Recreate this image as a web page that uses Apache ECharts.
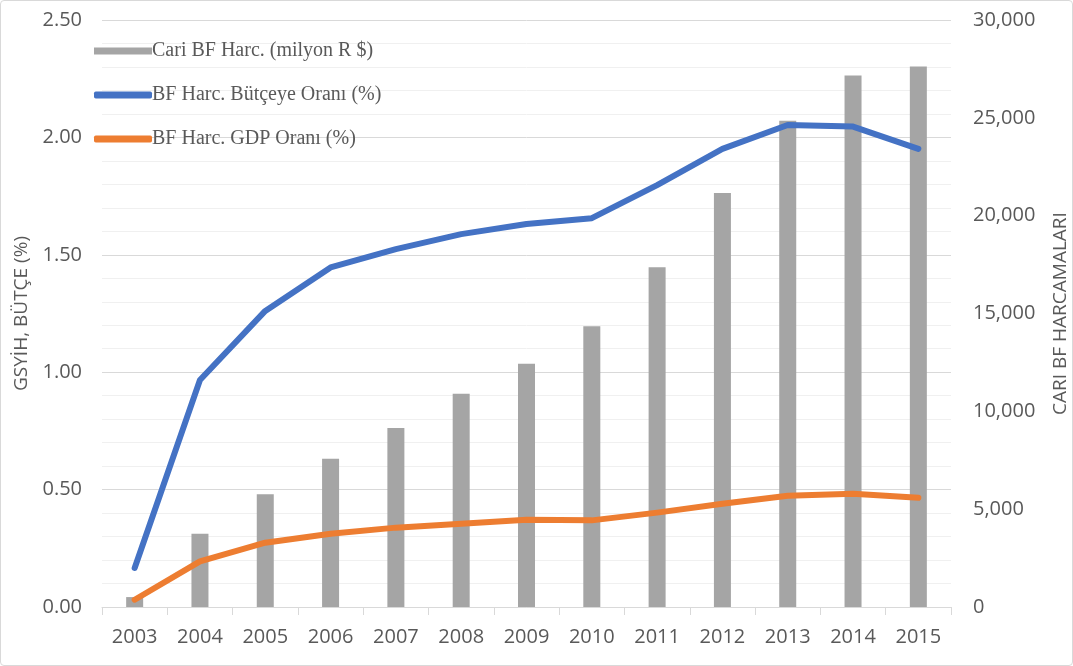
<!DOCTYPE html>
<html>
<head>
<meta charset="utf-8">
<script src="https://cdn.jsdelivr.net/npm/echarts@6/dist/echarts.min.js"></script>
<style>
html,body{margin:0;padding:0;background:#fff;}
#chart{width:1071px;height:664px;border:1px solid #d9d9d9;border-radius:4px;}
</style>
</head>
<body>
<div id="chart"></div>
<script>
const years = ['2003','2004','2005','2006','2007','2008','2009','2010','2011','2012','2013','2014','2015'];
const spending = [507, 3748, 5760, 7572, 9154, 10900, 12435, 14345, 17366, 21154, 24856, 27159, 27620];
const budgetRatio = [0.166, 0.967, 1.261, 1.446, 1.524, 1.588, 1.631, 1.656, 1.797, 1.951, 2.053, 2.046, 1.951];
const gdpRatio = [0.031, 0.194, 0.274, 0.312, 0.338, 0.355, 0.372, 0.369, 0.402, 0.440, 0.474, 0.482, 0.465];
const seriesNames = ['Cari BF Harc. (milyon R $)', 'BF Harc. Bütçeye Oranı (%)', 'BF Harc. GDP Oranı (%)'];
const leftAxisName = 'GSYİH, BÜTÇE (%)';
const rightAxisName = 'CARI BF HARCAMALARI';

const chart = echarts.init(document.getElementById('chart'));
const axisFont = {fontFamily: 'Open Sans', fontSize: 20, color: '#595959'};
chart.setOption({
  animation: false,
  grid: {left: 101, right: 121, top: 19, bottom: 58, containLabel: false, outerBoundsMode: 'none'},
  legend: {
    orient: 'vertical', left: 88, top: 35, itemGap: 24,
    itemWidth: 58, itemHeight: 7,
    textStyle: {fontFamily: 'Liberation Serif', fontSize: 20, color: '#595959', padding: [0,0,0,-5]},
    data: [
      {name: seriesNames[0], icon: 'rect'},
      {name: seriesNames[1], icon: 'roundRect'},
      {name: seriesNames[2], icon: 'roundRect'}
    ]
  },
  xAxis: {
    type: 'category', data: years, boundaryGap: true,
    axisLine: {lineStyle: {color: '#d9d9d9', width: 1}},
    axisTick: {show: true, length: 8, lineStyle: {color: '#d9d9d9'}},
    axisLabel: Object.assign({margin: 20}, axisFont)
  },
  yAxis: [
    {
      type: 'value', min: 0, max: 2.5, interval: 0.5,
      name: leftAxisName, nameLocation: 'middle', nameGap: 60, nameRotate: 90,
      nameTextStyle: {fontFamily: 'Open Sans', fontSize: 19, color: '#595959'},
      axisLine: {show: false}, axisTick: {show: false},
      axisLabel: Object.assign({margin: 20, formatter: v => v.toFixed(2)}, axisFont),
      splitLine: {lineStyle: {color: '#d9d9d9', width: 1}},
      minorTick: {show: false, splitNumber: 5},
      minorSplitLine: {show: true, lineStyle: {color: '#f0f0f0', width: 1}}
    },
    {
      type: 'value', min: 0, max: 30000, interval: 5000,
      name: rightAxisName, nameLocation: 'middle', nameGap: 100, nameRotate: 90,
      nameTextStyle: {fontFamily: 'Open Sans', fontSize: 19, color: '#595959'},
      axisLine: {show: false}, axisTick: {show: false},
      splitLine: {show: false},
      axisLabel: Object.assign({margin: 22, formatter: v => v.toLocaleString('en-US')}, axisFont)
    }
  ],
  series: [
    {name: seriesNames[0], type: 'bar', yAxisIndex: 1, data: spending, barWidth: 17,
     itemStyle: {color: '#a5a5a5'}, z: 1},
    {name: seriesNames[2], type: 'line', yAxisIndex: 0, data: gdpRatio, symbol: 'none',
     lineStyle: {color: '#ed7d31', width: 6, cap: 'round', join: 'round'}, itemStyle: {color: '#ed7d31'}, z: 3},
    {name: seriesNames[1], type: 'line', yAxisIndex: 0, data: budgetRatio, symbol: 'none',
     lineStyle: {color: '#4472c4', width: 6, cap: 'round', join: 'round'}, itemStyle: {color: '#4472c4'}, z: 4}
  ]
});
</script>
</body>
</html>
